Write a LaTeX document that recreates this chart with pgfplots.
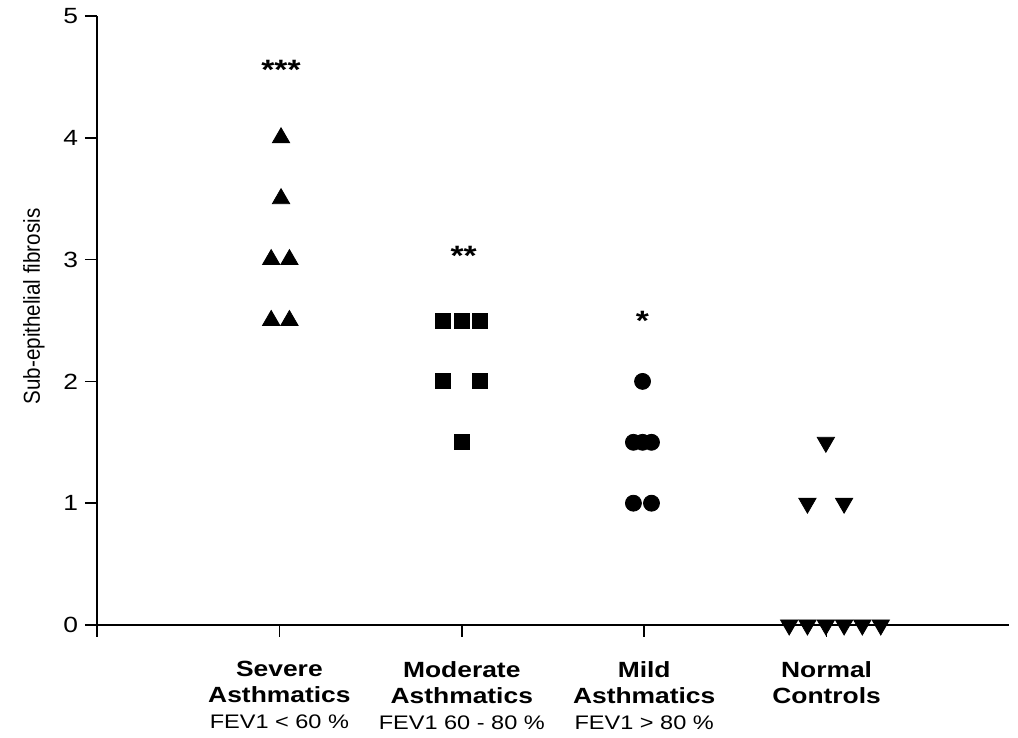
\documentclass[border=0pt]{standalone}
\usepackage{fontspec}
\setmainfont{Liberation Sans}[FakeStretch=1.2]
\newfontfamily\ylfont{Liberation Sans}
\usepackage{graphicx}
\usepackage{pgfplots}
\pgfplotsset{compat=1.18}
\newcommand\fev{\mdseries\fontsize{9.8}{13}\selectfont}
\begin{document}
\begin{tikzpicture}
\begin{axis}[
  at={(0,0)}, anchor=south west,
  scale only axis, width=456pt, height=304.5pt,
  xmin=0, xmax=5, ymin=0, ymax=5,
  axis x line*=bottom, axis y line*=left,
  axis line style={line width=0.8pt, black},
  tick style={line width=0.8pt, black},
  tick align=outside, major tick length=6pt,
  xtick={0,1,2,3,4},
  xticklabels={{},
    {Severe\\Asthmatics\\{\fev FEV1 < 60 \%}},
    {Moderate\\Asthmatics\\{\fev FEV1 60 - 80 \%}},
    {Mild\\Asthmatics\\{\fev FEV1 > 80 \%}},
    {Normal\\Controls}},
  xticklabel style={align=center, anchor=north, yshift=-8.5pt,
    font=\bfseries\fontsize{11}{13}\selectfont},
  ytick={0,1,2,3,4,5},
  /pgf/number format/assume math mode=true,
  yticklabel style={font=\fontsize{11}{12}\selectfont},
  ylabel={\scalebox{1}[1.12]{Sub-epithelial fibrosis}},
  ylabel style={font=\ylfont\fontsize{10.3}{12}\selectfont,
    at={(axis description cs:-0.0625,0.523)}, anchor=base},
  clip=false,
]
\addplot[only marks, mark=triangle*, mark size=5pt, black] coordinates {
  (1.009,4) (1.009,3.5) (0.955,3) (1.055,3) (0.955,2.5) (1.055,2.5)};
\addplot[only marks, mark=square*, mark size=3.75pt, black] coordinates {
  (1.899,2.5) (1.999,2.5) (2.101,2.5) (1.899,2) (2.101,2) (1.999,1.5)};
\addplot[only marks, mark=*, mark size=4pt, black] coordinates {
  (2.991,2) (2.941,1.5) (2.991,1.5) (3.040,1.5) (2.941,1) (3.040,1)};
\addplot[only marks, mark=triangle*, mark options={rotate=180}, mark size=5pt, black] coordinates {
  (3.996,1.5) (3.895,1) (4.096,1)
  (3.795,0) (3.895,0) (3.996,0) (4.096,0) (4.196,0) (4.297,0)};
\node[font=\bfseries\fontsize{14}{14}\selectfont, anchor=base] at (axis cs:1.009,4.48) {***};
\node[font=\bfseries\fontsize{14}{14}\selectfont, anchor=base] at (axis cs:2.01,2.95) {**};
\node[font=\bfseries\fontsize{14}{14}\selectfont, anchor=base] at (axis cs:2.99,2.42) {*};
\end{axis}
\pgfresetboundingbox
\path[use as bounding box] (-48.5pt,-56.5pt) rectangle (460.5pt,312.5pt);
\end{tikzpicture}
\end{document}
